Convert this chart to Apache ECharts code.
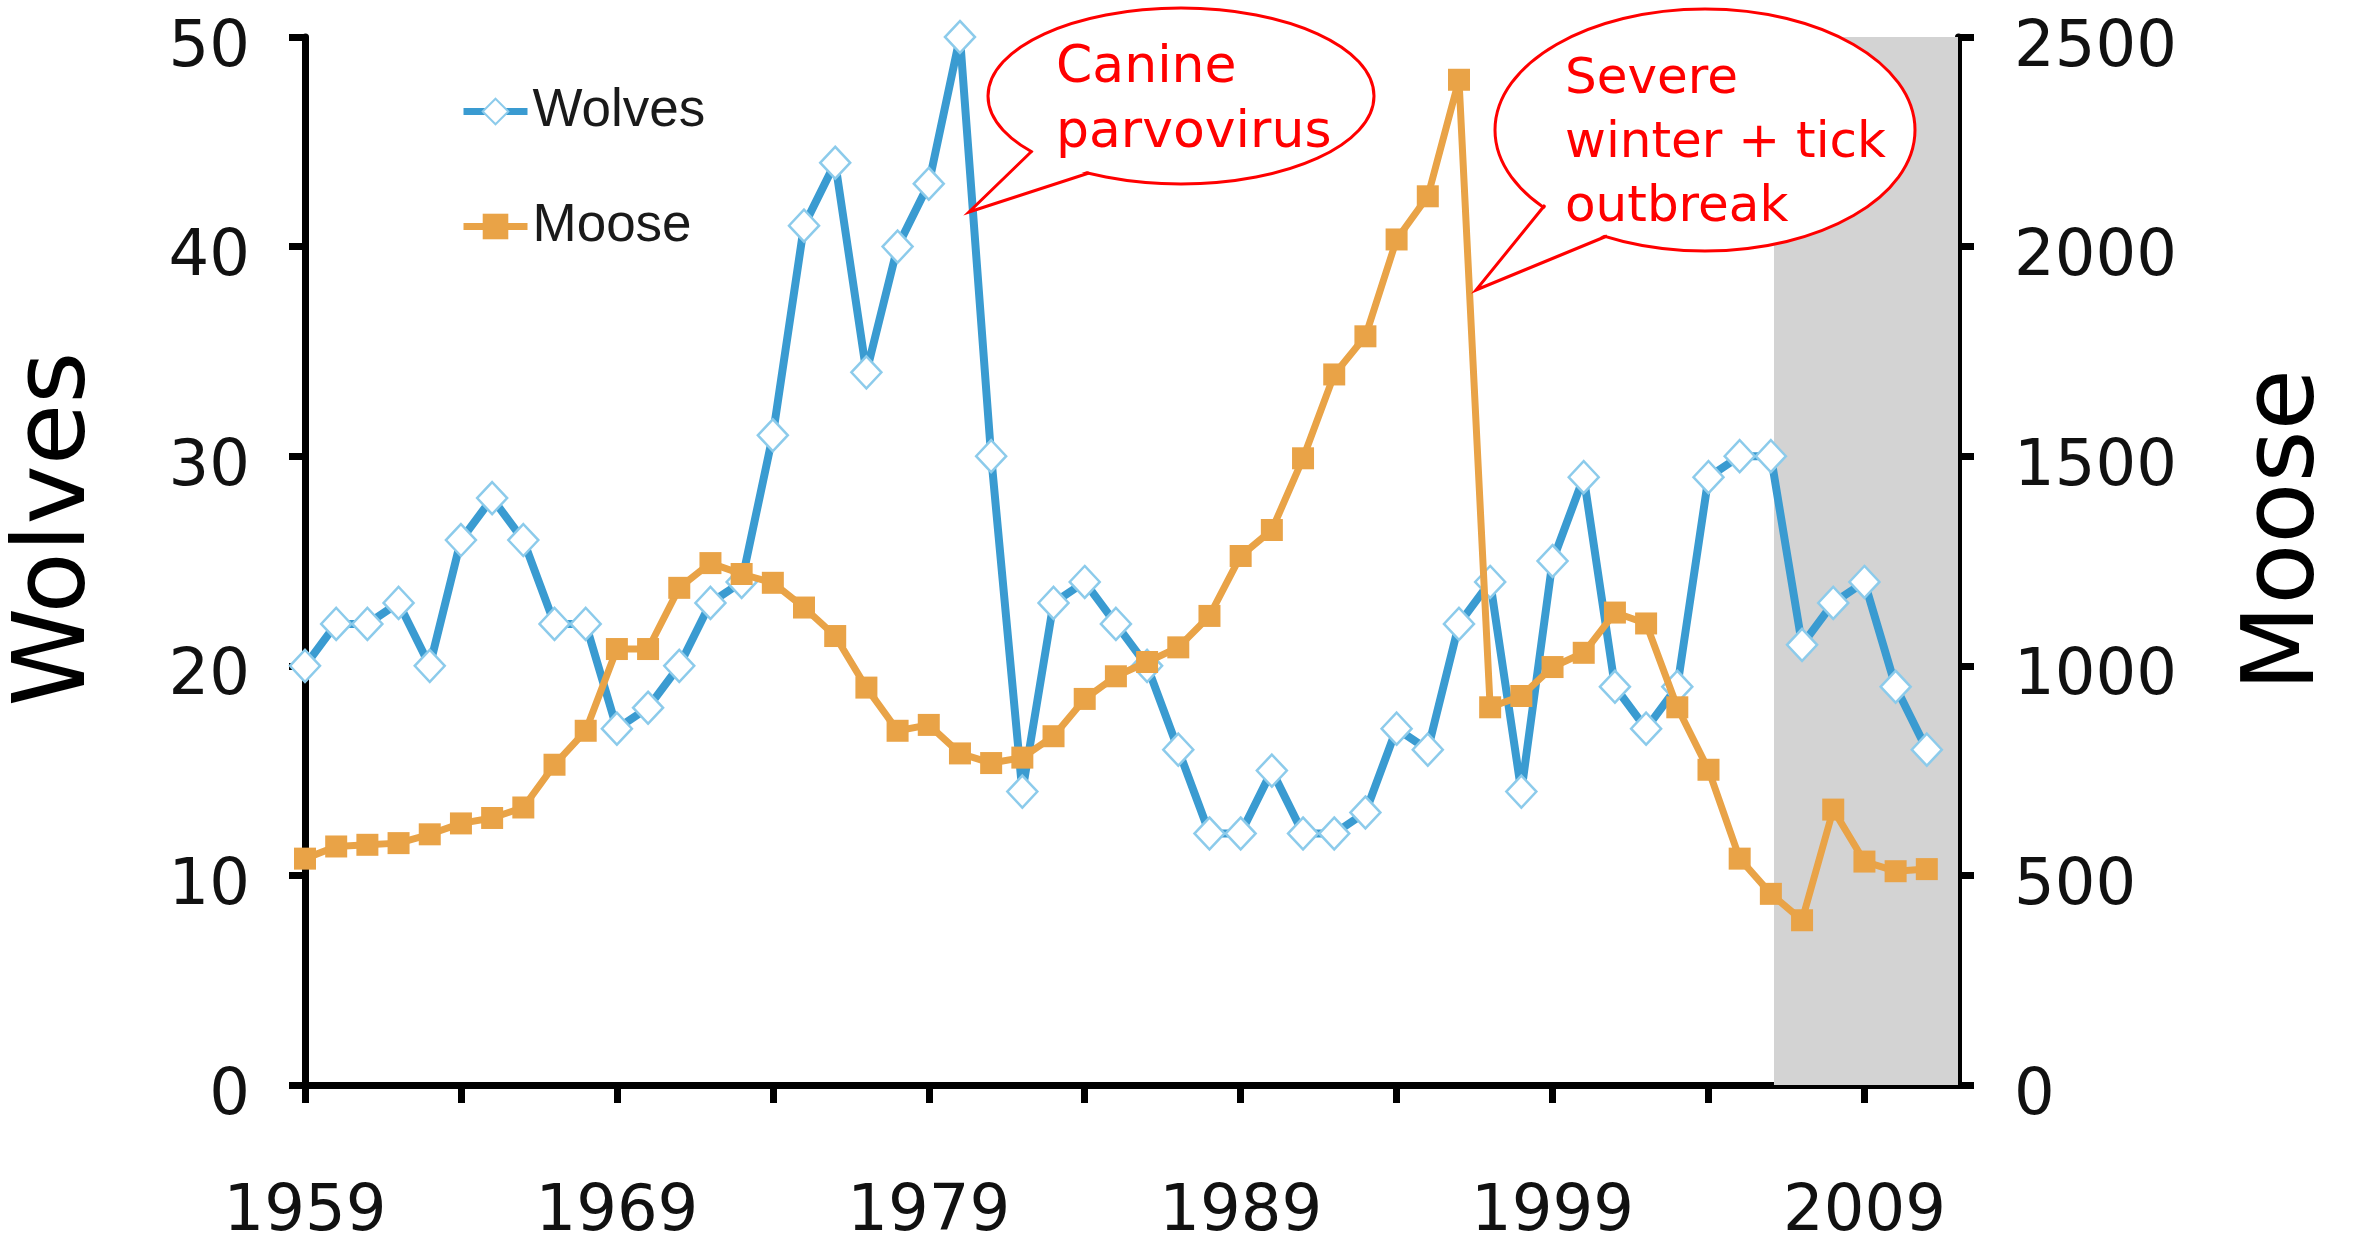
<!DOCTYPE html>
<html>
<head>
<meta charset="utf-8">
<script src="https://cdn.jsdelivr.net/npm/echarts@6.0.0/dist/echarts.min.js"></script>
<style>
html,body{margin:0;padding:0;background:#fff;}
#c{width:2356px;height:1245px;}
</style>
</head>
<body>
<div id="c"></div>
<script>
// ---- data ----
const years = [1959,1960,1961,1962,1963,1964,1965,1966,1967,1968,
               1969,1970,1971,1972,1973,1974,1975,1976,1977,1978,
               1979,1980,1981,1982,1983,1984,1985,1986,1987,1988,
               1989,1990,1991,1992,1993,1994,1995,1996,1997,1998,
               1999,2000,2001,2002,2003,2004,2005,2006,2007,2008,
               2009,2010,2011];
const wolves = [20,22,22,23,20,26,28,26,22,22,
                17,18,20,23,24,31,41,44,34,40,
                43,50,30,14,23,24,22,20,16,12,
                12,15,12,12,13,17,16,22,24,14,
                25,29,19,17,19,29,30,30,21,23,
                24,19,16];
const moose = [540,569,573,577,598,624,637,662,764,845,
               1040,1040,1186,1245,1219,1198,1139,1071,948,845,
               859,791,768,781,832,921,975,1009,1044,1119,
               1262,1324,1495,1695,1786,2017,2120,2398,901,928,
               997,1031,1127,1101,901,752,540,456,393,657,
               533,510,515];
const xLabelYears = [1959,1969,1979,1989,1999,2009];
const xTickYears = [1959,1964,1969,1974,1979,1984,1989,1994,1999,2004,2009];
const shadedPeriod = [2006.1, 2012];
const seriesNames = ['Wolves','Moose'];
const axisNames = ['Wolves','Moose'];
const note1 = 'Canine\nparvovirus';
const note2 = 'Severe\nwinter + tick\noutbreak';

const wolvesData = years.map((y, i) => [y, wolves[i]]);
const mooseData = years.map((y, i) => [y, moose[i]]);

const BLUE = '#3a9bd1';
const BLUE_LIGHT = '#8ccbeb';
const ORANGE = '#e9a347';
const RED = '#ff0000';
const FONT = '"DejaVu Sans", sans-serif';
const AXW = 7;

const chart = echarts.init(document.getElementById('c'), null, {renderer: 'canvas'});

const option = {
  animation: false,
  backgroundColor: '#ffffff',
  grid: {left: 305, right: 398, top: 37, bottom: 158, containLabel: false},
  legend: {
    orient: 'vertical',
    left: 455,
    top: 80,
    itemWidth: 64,
    itemHeight: 32,
    itemGap: 62,
    data: seriesNames,
    lineStyle: {width: 7},
    textStyle: {fontSize: 53, fontFamily: '"Liberation Sans", Arial, sans-serif', color: '#1a1a1a'}
  },
  xAxis: {
    type: 'value',
    min: 1959,
    max: 2012,
    splitLine: {show: false},
    axisLine: {show: true, lineStyle: {color: '#000', width: AXW}},
    axisTick: {show: true, length: 18, lineStyle: {color: '#000', width: AXW}, customValues: xTickYears},
    axisLabel: {
      customValues: xLabelYears,
      margin: 96,
      fontSize: 64,
      fontFamily: FONT,
      color: '#111',
      formatter: v => String(v)
    }
  },
  yAxis: [
    {
      type: 'value',
      position: 'left',
      min: 0, max: 50, interval: 10,
      name: axisNames[0],
      nameLocation: 'middle',
      nameRotate: 90,
      nameGap: 197,
      nameTextStyle: {fontSize: 100, fontFamily: FONT, color: '#000', padding: [0, 0, 0, 64]},
      splitLine: {show: false},
      axisLine: {show: true, lineStyle: {color: '#000', width: AXW}},
      axisTick: {show: true, length: 16, lineStyle: {color: '#000', width: AXW}},
      axisLabel: {margin: 55, fontSize: 64, fontFamily: FONT, color: '#111',
                  verticalAlign: 'top', lineHeight: 24, formatter: v => String(v)}
    },
    {
      type: 'value',
      position: 'right',
      min: 0, max: 2500, interval: 500,
      name: axisNames[1],
      nameLocation: 'middle',
      nameRotate: 90,
      nameGap: 279,
      nameTextStyle: {fontSize: 100, fontFamily: FONT, color: '#000', padding: [0, 0, 0, 62]},
      splitLine: {show: false},
      axisLine: {show: true, lineStyle: {color: '#000', width: AXW}},
      axisTick: {show: true, length: 16, lineStyle: {color: '#000', width: AXW}},
      axisLabel: {margin: 56, fontSize: 64, fontFamily: FONT, color: '#111',
                  verticalAlign: 'top', lineHeight: 24, formatter: v => String(v)}
    }
  ],
  series: [
    {
      name: 'shade',
      type: 'line',
      data: [],
      z: 1,
      silent: true,
      markArea: {
        silent: true,
        itemStyle: {color: '#d3d3d3'},
        data: [[{xAxis: shadedPeriod[0]}, {xAxis: shadedPeriod[1]}]]
      }
    },
    {
      name: seriesNames[0],
      type: 'line',
      yAxisIndex: 0,
      data: wolvesData,
      z: 3,
      symbol: 'diamond',
      symbolSize: [30, 32],
      showAllSymbol: true,
      lineStyle: {color: BLUE, width: 8},
      itemStyle: {color: '#ffffff', borderColor: BLUE_LIGHT, borderWidth: 2.5}
    },
    {
      name: seriesNames[1],
      type: 'line',
      yAxisIndex: 1,
      data: mooseData,
      z: 4,
      symbol: 'rect',
      symbolSize: 22,
      showAllSymbol: true,
      lineStyle: {color: ORANGE, width: 7},
      itemStyle: {color: ORANGE}
    }
  ],
  graphic: [
    {type: 'ellipse', z: 100, shape: {cx: 1181, cy: 96, rx: 193, ry: 88},
     style: {fill: '#fff', stroke: RED, lineWidth: 3}},
    {type: 'polygon', z: 101, shape: {points: [[1037, 148], [969, 212], [1093, 169]]},
     style: {fill: '#fff'}},
    {type: 'polyline', z: 102, shape: {points: [[1032, 151], [969, 212], [1089, 173]]},
     style: {stroke: RED, lineWidth: 3, fill: null}},
    {type: 'text', z: 103, x: 1056, y: 36,
     style: {text: note1, fontSize: 52, fontFamily: FONT, fill: RED, lineHeight: 65, verticalAlign: 'top', align: 'left'}},

    {type: 'ellipse', z: 100, shape: {cx: 1705, cy: 130, rx: 210, ry: 121},
     style: {fill: '#fff', stroke: RED, lineWidth: 3}},
    {type: 'polygon', z: 101, shape: {points: [[1550, 202], [1476, 290], [1611, 232]]},
     style: {fill: '#fff'}},
    {type: 'polyline', z: 102, shape: {points: [[1545, 205], [1476, 290], [1607, 236]]},
     style: {stroke: RED, lineWidth: 3, fill: null}},
    {type: 'text', z: 103, x: 1565, y: 48,
     style: {text: note2, fontSize: 50, fontFamily: FONT, fill: RED, lineHeight: 64, verticalAlign: 'top', align: 'left'}}
  ]
};

chart.setOption(option);
</script>
</body>
</html>
